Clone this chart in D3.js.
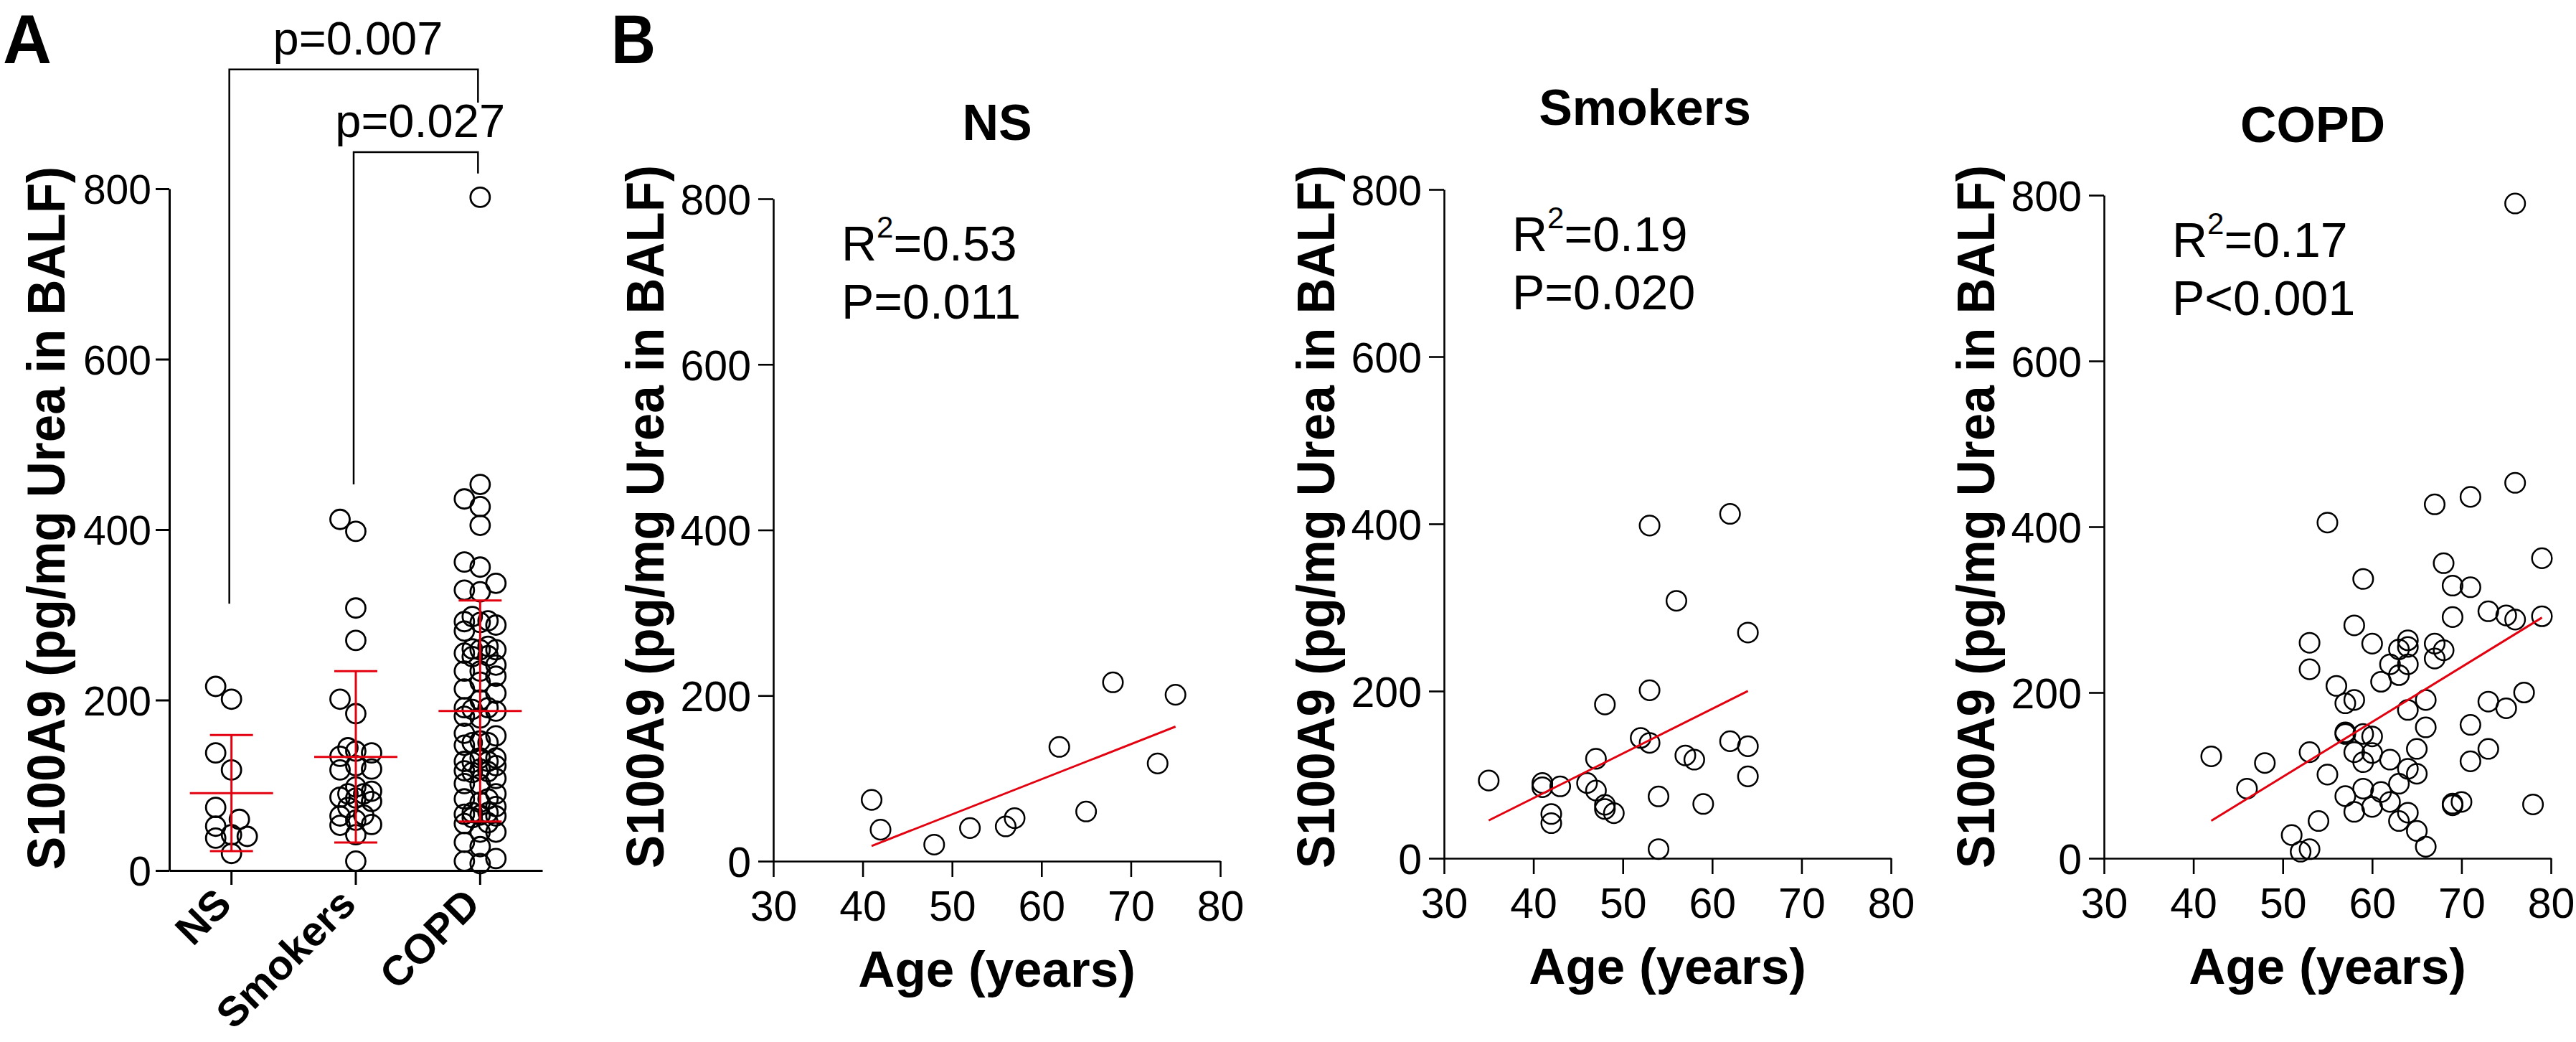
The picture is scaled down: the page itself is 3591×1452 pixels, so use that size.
<!DOCTYPE html>
<html><head><meta charset="utf-8">
<script src="https://cdn.jsdelivr.net/npm/d3@7"></script>
<style>
body{margin:0;background:#fff}
svg{display:block;background:#fff}
text{font-family:"Liberation Sans",Arial,Helvetica,sans-serif;fill:#000}
</style>
</head><body>
<svg id="c" width="3591" height="1452"></svg>
<script>
// ---------------- DATA ----------------
const groups = ["NS", "Smokers", "COPD"];

const nsAge = [41, 42, 48, 52, 56, 57, 62, 65, 68, 73, 75];
const nsVal = [74, 38, 20, 40, 42, 52, 138, 60, 216, 118, 201];

const smAge = [35, 41, 41, 43, 42, 42, 46, 47, 47, 48, 48, 48, 49, 52, 53, 53, 53, 54, 54, 56, 57, 58, 59, 62, 62, 64, 64, 64];
const smVal = [93, 90, 85, 86, 53, 42, 90, 81, 119, 184, 64, 59, 54, 144, 138, 398, 201, 74, 11, 308, 123, 118, 65, 412, 140, 270, 134, 98];

const copdAge = [76, 76, 71, 67, 55, 79, 68, 59, 69, 71, 73, 75, 76, 79, 69, 58, 60, 53, 64, 64,
                 63, 67, 68, 67, 62, 64, 63, 61, 53, 56, 57, 58, 77, 66, 73, 64, 75, 66, 71, 57,
                 57, 59, 60, 53, 58, 60, 59, 62, 65, 73, 71, 64, 65, 42, 48, 46, 55, 57, 59, 61,
                 63, 58, 60, 62, 64, 69, 69, 70, 78, 54, 63, 65, 51, 52, 53, 66];
const copdVal = [790, 453, 436, 427, 405, 362, 356, 337, 329, 327, 298, 293, 288, 292, 291, 281, 259, 260, 263, 255,
                 252, 259, 251, 241, 234, 234, 221, 213, 228, 208, 187, 191, 200, 191, 189, 179, 181, 158, 161, 150,
                 152, 150, 147, 128, 128, 127, 116, 119, 132, 132, 117, 108, 102, 123, 115, 84, 101, 75, 84, 80,
                 90, 56, 62, 68, 55, 66, 64, 68, 65, 45, 45, 33, 28, 8, 11, 14];

const yTicks = [0, 200, 400, 600, 800];
const xTicks = [30, 40, 50, 60, 70, 80];
const r2Labels = ["0.53", "0.19", "0.17"];
const pLabels = ["P=0.011", "P=0.020", "P<0.001"];

// comparisons in panel A (pairs, p text, bracket top / leg ends in data units)
const compFrom = ["NS", "Smokers"];
const compTo = ["COPD", "COPD"];
const compText = ["p=0.007", "p=0.027"];
const compTop = [940, 843];
const compLegFrom = [313, 453];
const compLegTo = [901, 818];

const yTitle = "S100A9 (pg/mg Urea in BALF)";
const xTitleB = "Age (years)";

// ---------------- STYLE / LAYOUT ----------------
const RED = "#e3000f";
const svg = d3.select("#c");
svg.append("rect").attr("width", 3591).attr("height", 1452).attr("fill", "#fff");

const groupVals = [nsVal, smVal, copdVal];
const groupAges = [nsAge, smAge, copdAge];

// ============ PANEL A ============
const xA = d3.scaleBand().domain(groups).range([236, 756]);
const yA = d3.scaleLinear().domain([0, 800]).range([1213, 263]);
const gA = svg.append("g");

const yAxA = gA.append("g").attr("transform", "translate(236,0)")
  .call(d3.axisLeft(yA).tickValues(yTicks).tickSize(19).tickPadding(6).tickSizeOuter(0));
yAxA.selectAll("path,line").attr("stroke", "#000").attr("stroke-width", 3);
yAxA.selectAll("text").attr("font-size", 57).attr("dy", "0.36em").attr("font-family", null);

const xAxA = gA.append("g").attr("transform", "translate(0,1213)")
  .call(d3.axisBottom(xA).tickSize(20).tickSizeOuter(0));
xAxA.selectAll("path,line").attr("stroke", "#000").attr("stroke-width", 3);
xAxA.selectAll("text").attr("font-size", 58).attr("font-weight", "bold").attr("font-family", null)
  .attr("text-anchor", "end").attr("x", 3).attr("y", 50).attr("dy", 0)
  .attr("transform", "rotate(-45,3,50)");

// y title A
gA.append("text").attr("transform", "translate(90,722) rotate(-90)")
  .attr("text-anchor", "middle").attr("font-size", 74).attr("font-weight", "bold")
  .attr("textLength", 980).attr("lengthAdjust", "spacingAndGlyphs").text(yTitle);

// beeswarm layout computed from values
function swarm(vals, yScale, r, step) {
  const order = d3.range(vals.length).sort((a, b) => vals[a] - vals[b]);
  const cands = [0, -step, step, -step / 2, step / 2];
  const placed = [];
  const off = new Array(vals.length).fill(0);
  for (const i of order) {
    const y = yScale(vals[i]);
    let best = 0, bestD = -1;
    for (const c of cands) {
      let dmin = Infinity;
      for (const p of placed) dmin = Math.min(dmin, Math.hypot(p[0] - c, p[1] - y));
      if (dmin >= 2 * r - 2) { best = c; bestD = Infinity; break; }
      if (dmin > bestD) { bestD = dmin; best = c; }
    }
    off[i] = best;
    placed.push([best, y]);
  }
  return off;
}

groups.forEach((g, gi) => {
  const vals = groupVals[gi];
  const cx = xA(g) + xA.bandwidth() / 2;
  const offs = swarm(vals, yA, 14, 22);
  gA.append("g").selectAll("circle").data(vals).join("circle")
    .attr("cx", (d, i) => cx + offs[i]).attr("cy", d => yA(d)).attr("r", 13.5)
    .attr("fill", "none").attr("stroke", "#000").attr("stroke-width", 2.8);
  // mean +/- SD
  const m = d3.mean(vals), sd = d3.deviation(vals);
  const eg = gA.append("g").attr("stroke", RED).attr("stroke-width", 3).attr("fill", "none");
  eg.append("line").attr("x1", cx - 58).attr("x2", cx + 58).attr("y1", yA(m)).attr("y2", yA(m));
  eg.append("line").attr("x1", cx).attr("x2", cx).attr("y1", yA(m + sd)).attr("y2", yA(m - sd));
  eg.append("line").attr("x1", cx - 30).attr("x2", cx + 30).attr("y1", yA(m + sd)).attr("y2", yA(m + sd));
  eg.append("line").attr("x1", cx - 30).attr("x2", cx + 30).attr("y1", yA(m - sd)).attr("y2", yA(m - sd));
});

// comparison brackets
compText.forEach((t, k) => {
  const x1 = xA(compFrom[k]) + xA.bandwidth() / 2 - 3;
  const x2 = xA(compTo[k]) + xA.bandwidth() / 2 - 3;
  const yt = yA(compTop[k]);
  gA.append("path")
    .attr("d", `M${x1},${yA(compLegFrom[k])}V${yt}H${x2}V${yA(compLegTo[k])}`)
    .attr("fill", "none").attr("stroke", "#000").attr("stroke-width", 2.5);
  gA.append("text").attr("x", (x1 + x2) / 2 + 6).attr("y", yt - 21)
    .attr("text-anchor", "middle").attr("font-size", 65).text(t);
});

// panel letters
svg.append("text").attr("x", 4).attr("y", 88).attr("font-size", 96).attr("font-weight", "bold")
  .attr("textLength", 68).attr("lengthAdjust", "spacingAndGlyphs").text("A");
svg.append("text").attr("x", 852).attr("y", 88).attr("font-size", 96).attr("font-weight", "bold")
  .attr("textLength", 62).attr("lengthAdjust", "spacingAndGlyphs").text("B");

// ============ PANEL B ============
const panelLayout = [
  { x0: 1078, top: 277, bottom: 1200, titleX: 1390, titleY: 195 },
  { x0: 2013, top: 264, bottom: 1196, titleX: 2293, titleY: 174 },
  { x0: 2933, top: 272, bottom: 1196, titleX: 3224, titleY: 198 }
];

groups.forEach((g, gi) => {
  const L = panelLayout[gi];
  const ages = groupAges[gi], vals = groupVals[gi];
  const x = d3.scaleLinear().domain([30, 80]).range([L.x0, L.x0 + 623]);
  const y = d3.scaleLinear().domain([0, 800]).range([L.bottom, L.top]);
  const gp = svg.append("g");

  const ya = gp.append("g").attr("transform", `translate(${L.x0},0)`)
    .call(d3.axisLeft(y).tickValues(yTicks).tickSize(21).tickPadding(10).tickSizeOuter(0));
  ya.selectAll("path,line").attr("stroke", "#000").attr("stroke-width", 2.6);
  ya.selectAll("text").attr("font-size", 59).attr("dy", "0.36em").attr("font-family", null);

  const xa = gp.append("g").attr("transform", `translate(0,${L.bottom})`)
    .call(d3.axisBottom(x).tickValues(xTicks).tickSize(22).tickSizeOuter(0));
  xa.selectAll("path,line").attr("stroke", "#000").attr("stroke-width", 2.6);
  xa.selectAll("text").attr("font-size", 59).attr("font-family", null).attr("y", 83).attr("dy", 0);

  // titles
  gp.append("text").attr("x", L.titleX).attr("y", L.titleY).attr("text-anchor", "middle")
    .attr("font-size", 70).attr("font-weight", "bold").text(g);
  gp.append("text").attr("x", L.x0 + 311.5).attr("y", L.bottom + 175).attr("text-anchor", "middle")
    .attr("font-size", 71).attr("font-weight", "bold").text(xTitleB);
  gp.append("text").attr("transform", `translate(${L.x0 - 153},720) rotate(-90)`)
    .attr("text-anchor", "middle").attr("font-size", 74).attr("font-weight", "bold")
    .attr("textLength", 980).attr("lengthAdjust", "spacingAndGlyphs").text(yTitle);

  // stats text
  const st = gp.append("text").attr("x", L.x0 + 95).attr("y", L.top + 86).attr("font-size", 68);
  st.append("tspan").text("R");
  st.append("tspan").attr("dy", -32).attr("font-size", 42).text("2");
  st.append("tspan").attr("dy", 32).text("=" + r2Labels[gi]);
  gp.append("text").attr("x", L.x0 + 95).attr("y", L.top + 167).attr("font-size", 68).text(pLabels[gi]);

  // points
  gp.append("g").selectAll("circle").data(vals).join("circle")
    .attr("cx", (d, i) => x(ages[i])).attr("cy", d => y(d)).attr("r", 13.8)
    .attr("fill", "none").attr("stroke", "#000").attr("stroke-width", 2.5);

  // linear regression from data
  const mx = d3.mean(ages), my = d3.mean(vals);
  let sxy = 0, sxx = 0;
  ages.forEach((a, i) => { sxy += (a - mx) * (vals[i] - my); sxx += (a - mx) * (a - mx); });
  const b = sxy / sxx, a0 = my - b * mx;
  const [amin, amax] = d3.extent(ages);
  gp.append("line").attr("x1", x(amin)).attr("x2", x(amax))
    .attr("y1", y(a0 + b * amin)).attr("y2", y(a0 + b * amax))
    .attr("stroke", RED).attr("stroke-width", 3);
});
</script>
</body></html>
